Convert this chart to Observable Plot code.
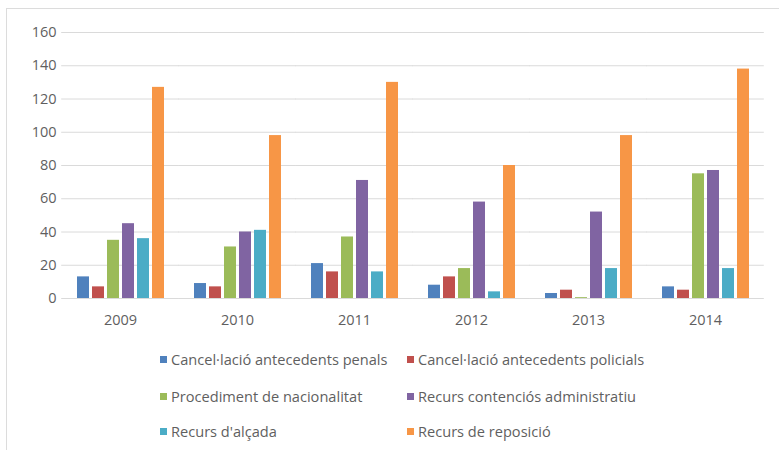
<!DOCTYPE html>
<html>
<head>
<meta charset="utf-8">
<script src="https://cdn.jsdelivr.net/npm/d3@7"></script>
<script src="https://cdn.jsdelivr.net/npm/@observablehq/plot@0.6"></script>
<style>
  html, body { margin: 0; padding: 0; background: #fff; }
  #wrap { position: relative; width: 779px; height: 450px; overflow: hidden; font-family: "Open Sans", Lato, sans-serif; }
  #border { position: absolute; left: 6px; top: 8px; width: 800px; height: 460px; border: 1px solid #dcdcdc; box-sizing: border-box; }
  #chart { position: absolute; left: 0; top: 0; }
  #legend { position: absolute; left: 0; top: 0; width: 779px; height: 450px; pointer-events: none; }
  .item { position: absolute; display: flex; align-items: center; font-size: 14.6px; color: #5f5f5f; white-space: nowrap; line-height: 18px; }
  .sw { width: 7px; height: 7px; margin-right: 4px; }
</style>
</head>
<body>
<div id="wrap">
  <div id="border"></div>
  <div id="chart"></div>
  <div id="legend"></div>
</div>
<script>
const years = ["2009", "2010", "2011", "2012", "2013", "2014"];
const series = [
  "Cancel·lació antecedents penals",
  "Cancel·lació antecedents policials",
  "Procediment de nacionalitat",
  "Recurs contenciós administratiu",
  "Recurs d'alçada",
  "Recurs de reposició"
];
const penals       = [13, 9, 21, 8, 3, 7];
const policials    = [7, 7, 16, 13, 5, 5];
const nacionalitat = [35, 31, 37, 18, 0.5, 75];
const contencios   = [45, 40, 71, 58, 52, 77];
const alcada       = [36, 41, 16, 4, 18, 18];
const reposicio    = [127, 98, 130, 80, 98, 138];
const yTicks = [0, 20, 40, 60, 80, 100, 120, 140, 160];
const colors = ["#4f81bd", "#c0504d", "#9bbb59", "#8064a2", "#4bacc6", "#f79646"];

const valuesBySeries = [penals, policials, nacionalitat, contencios, alcada, reposicio];
const data = [];
years.forEach((yr, i) => {
  series.forEach((s, j) => {
    data.push({year: yr, series: s, value: valuesBySeries[j][i]});
  });
});

const pi = 0.235;
const chart = Plot.plot({
  width: 779,
  height: 340,
  marginLeft: 63,
  marginRight: 17,
  marginTop: 32,
  marginBottom: 42,
  style: {fontFamily: "'Open Sans', Lato, sans-serif", fontSize: "14.5px", color: "#5f5f5f", background: "transparent"},
  fx: {domain: years, paddingInner: pi, paddingOuter: 0.085, label: null, tickSize: 0, tickPadding: 16, axis: "bottom"},
  x: {domain: series, axis: null, paddingInner: 0.23, paddingOuter: 0},
  y: {domain: [0, 160], ticks: yTicks, label: null, tickSize: 0, tickPadding: 19},
  color: {domain: series, range: colors},
  marks: [
    Plot.ruleY(yTicks, {stroke: "#dadada", insetLeft: -13.8, insetRight: -13.8}),
    Plot.barY(data, {fx: "year", x: "series", y: "value", fill: "series"})
  ]
});
document.getElementById("chart").appendChild(chart);

const legend = document.getElementById("legend");
const cols = [160, 407];
const rows = [359, 396, 431];
series.forEach((s, i) => {
  const it = document.createElement("div");
  it.className = "item";
  it.style.left = cols[i % 2] + "px";
  it.style.top = (rows[Math.floor(i / 2)] - 9) + "px";
  const sw = document.createElement("span");
  sw.className = "sw";
  sw.style.background = colors[i];
  const tx = document.createElement("span");
  tx.textContent = s;
  it.appendChild(sw);
  it.appendChild(tx);
  legend.appendChild(it);
});
</script>
</body>
</html>
